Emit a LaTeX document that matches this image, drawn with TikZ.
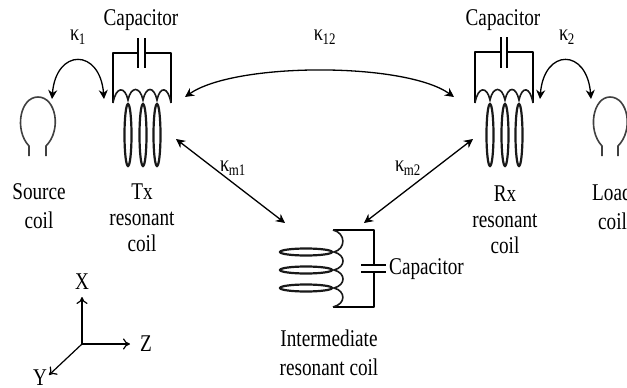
\documentclass[tikz,border=0pt]{standalone}
\usepackage{fontspec}
\setmainfont[FakeStretch=0.8]{Liberation Serif}
\usetikzlibrary{arrows.meta}
\tikzset{
  lbl/.style={font=\fontsize{24}{26}\selectfont,inner sep=0pt,align=center},
  kap/.style={font=\fontsize{23}{25}\selectfont,inner sep=0pt},
  wire/.style={line width=2pt,line join=round},
  hump/.style={line width=1.6pt,black!90},
  loopring/.style={line width=2.2pt,black!90},
  smallcoil/.style={line width=1.6pt,black!75},
  couple/.style={line width=1.3pt,{Stealth[length=9pt,width=9pt]}-{Stealth[length=9pt,width=9pt]}},
  axis/.style={line width=1.2pt,-{To[length=7pt,width=11pt]}}
}
\newcommand{\kp}[1]{κ\textsubscript{\kern-0.5pt#1}}
\begin{document}
\begin{tikzpicture}[x=1pt,y=-1pt]
\useasboundingbox (0,0) rectangle (627,388);
\clip (0,0) rectangle (627,388);
\fill[white] (0,0) rectangle (627,388);

% Tx resonant coil
\draw[wire] (113,103) -- (113,53) -- (138,53) (138,38) -- (138,68) (145,38) -- (145,68) (145,53) -- (171,53) -- (171,103);
\foreach \c in {128,143,157} \draw[loopring] (\c,135) ellipse (3.5 and 31);
\draw[hump] (113,103) .. controls (116,86) and (125,86) .. (128,100) .. controls (131,86) and (140,86) .. (143,100) .. controls (146,86) and (154,86) .. (157,100) .. controls (160,86) and (168,86) .. (171,103);

% Rx resonant coil
\draw[wire] (475,103) -- (475,52) -- (501,52) (501,37) -- (501,68) (507,37) -- (507,68) (507,52) -- (533,52) -- (533,103);
\foreach \c in {490,505,519} \draw[loopring] (\c,135) ellipse (3.5 and 31);
\draw[hump] (475,103) .. controls (478,86) and (487,86) .. (490,100) .. controls (493,86) and (502,86) .. (505,100) .. controls (508,86) and (516,86) .. (519,100) .. controls (522,86) and (530,86) .. (533,103);

% Intermediate resonant coil
\draw[wire] (333,230) -- (374,230) -- (374,265) (361,265) -- (386,265) (361,272) -- (386,272) (374,272) -- (374,307) -- (333,307);
\foreach \c in {252,270,288} \draw[loopring] (306,\c) ellipse (26 and 3.5);
\draw[hump] (333,230) .. controls (346,233) and (346,249) .. (334,252) .. controls (346,255) and (346,267) .. (334,270) .. controls (346,273) and (346,285) .. (334,288) .. controls (346,291) and (346,304) .. (333,307);

% Source coil
\draw[smallcoil] (29,156) -- (29,146) .. controls (14,130) and (20,97) .. (38,97) .. controls (56,97) and (62,130) .. (46,146) -- (46,156);
% Load coil
\draw[smallcoil] (602,156) -- (602,146) .. controls (587,130) and (593,97) .. (610,97) .. controls (628,97) and (634,130) .. (618,146) -- (618,156);

% connector ends
\coordinate (srcend) at (52,99);
\coordinate (txl) at (104,99);
\coordinate (txr) at (185,97);
\coordinate (txb) at (176,139);
\coordinate (rxl) at (454,97);
\coordinate (rxb) at (473,139);
\coordinate (rxr) at (540,99);
\coordinate (loadend) at (591,99);
\coordinate (intl) at (285,223);
\coordinate (intr) at (364,223);
\coordinate (o) at (82,344);
\coordinate (xe) at (82,297);
\coordinate (ze) at (130,344);
\coordinate (ye) at (49,375);

\draw[couple] (srcend) .. controls (56,48) and (100,48) .. (txl);
\draw[couple] (txr) .. controls (235,62) and (405,62) .. (rxl);
\draw[couple] (rxr) .. controls (544,48) and (587,48) .. (loadend);
\draw[couple] (txb) -- (intl);
\draw[couple] (rxb) -- (intr);

\draw[axis] (o) -- (xe);
\draw[axis] (o) -- (ze);
\draw[axis] (o) -- (ye);

% labels
\node[lbl] (captx) at (141,20) {Capacitor};
\node[lbl] (caprx) at (503,20) {Capacitor};
\node[lbl,anchor=west] (capint) at (389,269) {Capacitor};
\node[kap] (k1) at (78,37) {\kp{1}};
\node[kap] (k12) at (325,37) {\kp{12}};
\node[kap] (k2) at (567,37) {\kp{2}};
\node[kap] (km1) at (233,168) {\kp{m1}};
\node[kap] (km2) at (408,168) {\kp{m2}};
\node[lbl] (source) at (39,206) {Source\\[3pt]coil};
\node[lbl] (tx) at (142,218) {Tx\\[0pt]resonant\\[0pt]coil};
\node[lbl] (rx) at (505,220) {Rx\\[0pt]resonant\\[0pt]coil};
\node[lbl,anchor=west] (load) at (592,192) {Load};
\node[lbl,anchor=west] (loadc) at (598,221) {coil};
\node[lbl] (inter) at (329,353) {Intermediate\\[3pt]resonant coil};
\node[lbl] (xl) at (82,282) {X};
\node[lbl] (zl) at (146,344) {Z};
\node[lbl] (yl) at (40,378) {Y};
\end{tikzpicture}
\end{document}
